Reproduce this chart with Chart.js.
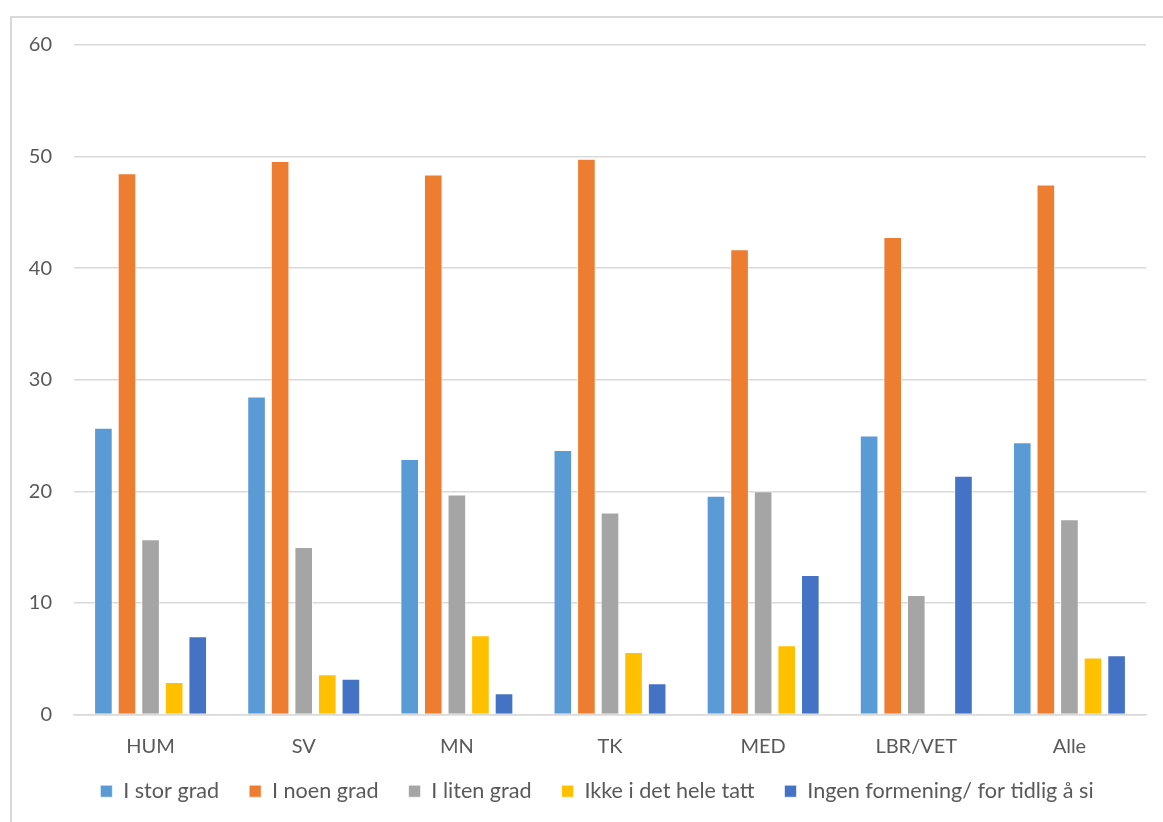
<!DOCTYPE html>
<html>
<head>
<meta charset="utf-8">
<script src="https://cdn.jsdelivr.net/npm/chart.js@4/dist/chart.umd.min.js"></script>
<style>
  html, body { margin: 0; padding: 0; background: #fff; overflow: hidden; }
  #wrap { position: relative; width: 1163px; height: 822px; }
  #frame { position: absolute; left: 10px; top: 16px; width: 1400px; height: 1000px;
           border-left: 2px solid #d9d9d9; border-top: 2px solid #d9d9d9; }
  canvas { position: absolute; left: 0; top: 0; }
</style>
</head>
<body>
<div id="wrap">
  <div id="frame"></div>
  <canvas id="chart" width="1163" height="822"></canvas>
</div>
<script>
const categories = ['HUM', 'SV', 'MN', 'TK', 'MED', 'LBR/VET', 'Alle'];
const seriesNames = ['I stor grad', 'I noen grad', 'I liten grad', 'Ikke i det hele tatt', 'Ingen formening/ for tidlig å si'];
const storGrad = [25.7, 28.5, 22.9, 23.7, 19.6, 25.0, 24.4];
const noenGrad = [48.5, 49.6, 48.4, 49.8, 41.7, 42.8, 47.5];
const litenGrad = [15.7, 15.0, 19.7, 18.1, 20.0, 10.7, 17.5];
const ikkeHele = [2.9, 3.6, 7.1, 5.6, 6.2, 0, 5.1];
const ingenFormening = [7.0, 3.2, 1.9, 2.8, 12.5, 21.4, 5.3];
const colors = ['#5B9BD5', '#ED7D31', '#A5A5A5', '#FFC000', '#4472C4'];

const values = [storGrad, noenGrad, litenGrad, ikkeHele, ingenFormening];
const fontFamily = 'Lato';

// legenden: mindre luft rundt, og litt forskjøvet mot høyre som i Excel
const legendFit = {
    id: 'legendFit',
    beforeLayout(chart) {
        const lg = chart.legend;
        if (lg && !lg._tight) {
            const fit = lg.fit;
            lg.fit = function () {
                fit.call(this);
                this.height -= 21;
            };
            lg._tight = true;
        }
    },
    afterLayout(chart) {
        const lg = chart.legend;
        lg.top -= 20;
        lg.bottom = chart.height;
        lg.height = lg.bottom - lg.top;
        lg.left += 24;
        lg.right += 24;
    }
};

// Excel-lignende oppsett
new Chart(document.getElementById('chart').getContext('2d'), {
    type: 'bar',
    data: {
        labels: categories,
        datasets: values.map((v, i) => ({
            label: seriesNames[i],
            data: v,
            backgroundColor: colors[i],
            borderColor: 'rgba(255,255,255,0.6)',
            borderWidth: 1,
            categoryPercentage: 0.77,
            barPercentage: 0.79
        }))
    },
    plugins: [legendFit],
    options: {
        responsive: false,
        animation: false,
        layout: { padding: { top: 45, right: 17, bottom: 11, left: 0 } },
        plugins: {
            tooltip: { enabled: false },
            legend: {
                position: 'bottom',
                labels: {
                    boxWidth: 12,
                    boxHeight: 12,
                    padding: 30,
                    color: '#595959',
                    font: { family: fontFamily, size: 21.6 }
                }
            }
        },
        scales: {
            x: {
                grid: { display: false },
                border: { color: '#d9d9d9', width: 1.5 },
                ticks: { color: '#595959', padding: 12, font: { family: fontFamily, size: 20 } }
            },
            y: {
                min: 0,
                max: 60,
                afterFit: s => { s.width = 74; },
                border: { display: false },
                grid: { color: '#d9d9d9', lineWidth: 1.5, drawTicks: false },
                ticks: { stepSize: 10, color: '#595959', padding: 22, font: { family: fontFamily, size: 20 } }
            }
        }
    }
});
</script>
</body>
</html>
